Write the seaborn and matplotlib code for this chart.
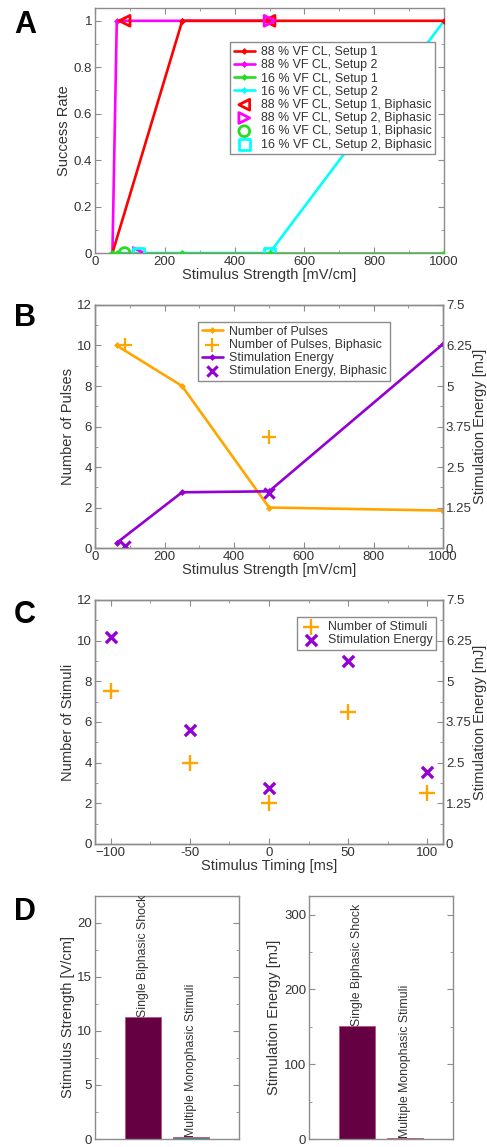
import numpy as np
import pandas as pd
import matplotlib
matplotlib.use("Agg")
import matplotlib.pyplot as plt
from matplotlib.ticker import MultipleLocator, FixedLocator
import seaborn as sns

sns.set_style("ticks")
plt.rcParams['font.family'] = ['Liberation Sans', 'DejaVu Sans']

# ---------------- data ----------------
# panel A: success rate vs stimulus strength [mV/cm]
a_s1_88_x = [50, 250, 500, 1000]
a_s1_88_y = [0, 1, 1, 1]
a_s2_88_x = [50, 62.5, 250, 500]
a_s2_88_y = [0, 1, 1, 1]
a_s1_16_x = [50, 62.5, 250, 500, 1000]
a_s1_16_y = [0, 0, 0, 0, 0]
a_s2_16_x = [50, 250, 500, 1000]
a_s2_16_y = [0, 0, 0, 1]
a_bi_s1_88_x, a_bi_s1_88_y = [85, 500], [1, 1]
a_bi_s2_88_x, a_bi_s2_88_y = [125, 500], [0, 1]
a_bi_s1_16_x, a_bi_s1_16_y = [85], [0]
a_bi_s2_16_x, a_bi_s2_16_y = [125, 500], [0, 0]

# panel B
b_x = [62.5, 250, 500, 1000]
b_pulses = [10, 8, 2, 1.85]
b_pulses_bi_x = [85, 500]
b_pulses_bi = [10, 5.5]
b_energy = [0.16, 1.72, 1.75, 6.3]          # mJ
b_energy_bi_x = [85, 500]
b_energy_bi = [0.06, 1.69]                  # mJ

# panel C
c_timing = [-100, -50, 0, 50, 100]
c_stimuli = [7.5, 4, 2, 6.5, 2.5]
c_energy = [6.375, 3.5, 1.72, 5.625, 2.22]  # mJ

# panel D
d_cats = ["Single Biphasic Shock", "Multiple Monophasic Stimuli"]
d_strength = [11.3, 0.15]                   # V/cm
d_energy = [151, 1.0]                       # mJ

# ---------------- styling helpers ----------------
GRAY = "#8c8c8c"
TXT = "#333333"
LBL = 10.5
TICK = 9.5


def style(ax, right=True, top=True):
    for sp in ax.spines.values():
        sp.set_color(GRAY)
        sp.set_linewidth(1.0)
        sp.set_visible(True)
    ax.tick_params(which="both", direction="in", colors=GRAY,
                   labelcolor=TXT, labelsize=TICK, right=right, top=top)
    ax.tick_params(which="major", length=4, pad=2)
    ax.tick_params(which="minor", length=2.5)


def legend(ax, handles, labels, **kw):
    lg = ax.legend(handles, labels, fontsize=8.9, frameon=True, fancybox=False,
                   edgecolor=GRAY, borderaxespad=0, handlelength=1.7,
                   labelspacing=0.1, borderpad=0.3, handletextpad=0.5,
                   framealpha=1, **kw)
    lg.get_frame().set_linewidth(1.0)
    for t in lg.get_texts():
        t.set_color(TXT)
    return lg


fig = plt.figure(figsize=(4.87, 11.47), dpi=100)

# ---------------- A ----------------
axA = fig.add_axes([0.195, 0.7794, 0.717, 0.2136])
for x, y, c, lab, z in [(a_s1_88_x, a_s1_88_y, "red", "88 % VF CL, Setup 1", 4),
                        (a_s2_88_x, a_s2_88_y, "magenta", "88 % VF CL, Setup 2", 3),
                        (a_s1_16_x, a_s1_16_y, "#22dd22", "16 % VF CL, Setup 1", 4),
                        (a_s2_16_x, a_s2_16_y, "cyan", "16 % VF CL, Setup 2", 3)]:
    sns.lineplot(x=x, y=y, ax=axA, color=c, lw=1.9, marker="D", markersize=3.5,
                 markeredgewidth=0, sort=False, estimator=None, label=lab, zorder=z)
for x, y, c, m, lab in [(a_bi_s1_88_x, a_bi_s1_88_y, "red", "<", "88 % VF CL, Setup 1, Biphasic"),
                        (a_bi_s2_88_x, a_bi_s2_88_y, "magenta", ">", "88 % VF CL, Setup 2, Biphasic"),
                        (a_bi_s1_16_x, a_bi_s1_16_y, "#22dd22", "o", "16 % VF CL, Setup 1, Biphasic"),
                        (a_bi_s2_16_x, a_bi_s2_16_y, "cyan", "s", "16 % VF CL, Setup 2, Biphasic")]:
    sns.scatterplot(x=x, y=y, ax=axA, marker=m, s=60, facecolors="none",
                    edgecolor=c, linewidth=2, label=lab, zorder=5)
axA.set_xlim(0, 1000)
axA.set_ylim(0, 1.055)
axA.xaxis.set_major_locator(MultipleLocator(200))
axA.xaxis.set_minor_locator(MultipleLocator(100))
axA.yaxis.set_minor_locator(MultipleLocator(0.1))
axA.set_yticks([0, 0.2, 0.4, 0.6, 0.8, 1.0])
axA.set_yticklabels(["0", "0.2", "0.4", "0.6", "0.8", "1"])
axA.set_xlabel("Stimulus Strength [mV/cm]", fontsize=LBL, color=TXT, labelpad=0)
axA.set_ylabel("Success Rate", fontsize=LBL, color=TXT, labelpad=2)
style(axA)
h, l = axA.get_legend_handles_labels()
legend(axA, h, l, loc="upper right", bbox_to_anchor=(0.975, 0.86))

# ---------------- B ----------------
axB = fig.add_axes([0.195, 0.5222, 0.715, 0.2119])
axB2 = axB.twinx()
sns.lineplot(x=b_x, y=b_pulses, ax=axB, color="orange", lw=1.9, marker="D",
             markersize=3.5, markeredgewidth=0, sort=False, estimator=None,
             label="Number of Pulses")
sns.scatterplot(x=b_pulses_bi_x, y=b_pulses_bi, ax=axB, color="orange", marker="+",
                s=110, linewidth=1.6, label="Number of Pulses, Biphasic")
sns.lineplot(x=b_x, y=b_energy, ax=axB2, color="#9400d3", lw=1.9, marker="D",
             markersize=3.5, markeredgewidth=0, sort=False, estimator=None,
             label="Stimulation Energy")
sns.scatterplot(x=b_energy_bi_x, y=b_energy_bi, ax=axB2, color="#9400d3", marker="x",
                s=55, linewidth=2.2, label="Stimulation Energy, Biphasic")
axB.set_xlim(0, 1000)
axB.set_ylim(0, 12)
axB2.set_ylim(0, 7.5)
axB.xaxis.set_major_locator(MultipleLocator(200))
axB.xaxis.set_minor_locator(MultipleLocator(100))
axB.yaxis.set_major_locator(MultipleLocator(2))
axB.yaxis.set_minor_locator(MultipleLocator(1))
axB2.yaxis.set_major_locator(FixedLocator([0, 1.25, 2.5, 3.75, 5, 6.25, 7.5]))
axB2.yaxis.set_minor_locator(MultipleLocator(0.625))
axB2.set_yticklabels(["0", "1.25", "2.5", "3.75", "5", "6.25", "7.5"])
axB.set_xlabel("Stimulus Strength [mV/cm]", fontsize=LBL, color=TXT, labelpad=0)
axB.set_ylabel("Number of Pulses", fontsize=LBL, color=TXT, labelpad=2)
axB2.set_ylabel("Stimulation Energy [mJ]", fontsize=LBL, color=TXT, labelpad=1)
style(axB, right=False)
style(axB2, right=True)
h1, l1 = axB.get_legend_handles_labels()
h2, l2 = axB2.get_legend_handles_labels()
if axB.get_legend():
    axB.get_legend().remove()
legend(axB2, h1 + h2, l1 + l2, loc="upper left", bbox_to_anchor=(0.296, 0.93))

# ---------------- C ----------------
axC = fig.add_axes([0.195, 0.2642, 0.715, 0.2127])
axC2 = axC.twinx()
sns.scatterplot(x=c_timing, y=c_stimuli, ax=axC, color="orange", marker="+",
                s=130, linewidth=1.7, label="Number of Stimuli")
sns.scatterplot(x=c_timing, y=c_energy, ax=axC2, color="#9400d3", marker="x",
                s=65, linewidth=2.4, label="Stimulation Energy")
axC.set_xlim(-110, 110)
axC.set_ylim(0, 12)
axC2.set_ylim(0, 7.5)
axC.xaxis.set_minor_locator(MultipleLocator(25))
axC.set_xticks([-100, -50, 0, 50, 100])
axC.set_xticklabels(["\u2212100", "-50", "0", "50", "100"])
axC.yaxis.set_major_locator(MultipleLocator(2))
axC.yaxis.set_minor_locator(MultipleLocator(1))
axC2.yaxis.set_major_locator(FixedLocator([0, 1.25, 2.5, 3.75, 5, 6.25, 7.5]))
axC2.yaxis.set_minor_locator(MultipleLocator(0.625))
axC2.set_yticklabels(["0", "1.25", "2.5", "3.75", "5", "6.25", "7.5"])
axC.set_xlabel("Stimulus Timing [ms]", fontsize=LBL, color=TXT, labelpad=0)
axC.set_ylabel("Number of Stimuli", fontsize=LBL, color=TXT, labelpad=2)
axC2.set_ylabel("Stimulation Energy [mJ]", fontsize=LBL, color=TXT, labelpad=1)
style(axC, right=False)
style(axC2, right=True)
h1, l1 = axC.get_legend_handles_labels()
h2, l2 = axC2.get_legend_handles_labels()
if axC.get_legend():
    axC.get_legend().remove()
legend(axC2, h1 + h2, l1 + l2, loc="upper right", bbox_to_anchor=(0.98, 0.93))

# ---------------- D ----------------
dfD = pd.DataFrame({"cat": d_cats, "strength": d_strength, "energy": d_energy})
axD1 = fig.add_axes([0.195, 0.00697, 0.2957, 0.2119])
axD2 = fig.add_axes([0.6345, 0.00697, 0.2957, 0.2119])
for ax, col, colors, ylim, major, minor, ylab in [
        (axD1, "strength", ["#650042", "#2e8b7a"], 22.5, 5, 2.5, "Stimulus Strength [V/cm]"),
        (axD2, "energy", ["#650042", "#777777"], 325, 100, 50, "Stimulation Energy [mJ]")]:
    sns.barplot(data=dfD, x="cat", y=col, hue="cat", palette=colors, legend=False,
                ax=ax, width=0.74, edgecolor="#c0507a", linewidth=0.6, saturation=1)
    ax.set_xlim(-1, 2)
    ax.set_ylim(0, ylim)
    ax.yaxis.set_major_locator(MultipleLocator(major))
    ax.yaxis.set_minor_locator(MultipleLocator(minor))
    ax.set_xticks([])
    ax.set_xlabel("")
    ax.set_ylabel(ylab, fontsize=LBL, color=TXT, labelpad=2)
    style(ax, right=True, top=False)
    for i, v in enumerate(dfD[col]):
        ax.text(i, v, dfD["cat"][i], rotation=90, ha="center", va="bottom",
                fontsize=8.8, color=TXT)

# panel letters
for letter, y in [("A", 25), ("B", 318), ("C", 615), ("D", 912)]:
    fig.text(25 / 487, 1 - y / 1147, letter, fontsize=22, fontweight="bold",
             ha="center", va="center", color="black")

fig.savefig("out.png", dpi=100)
